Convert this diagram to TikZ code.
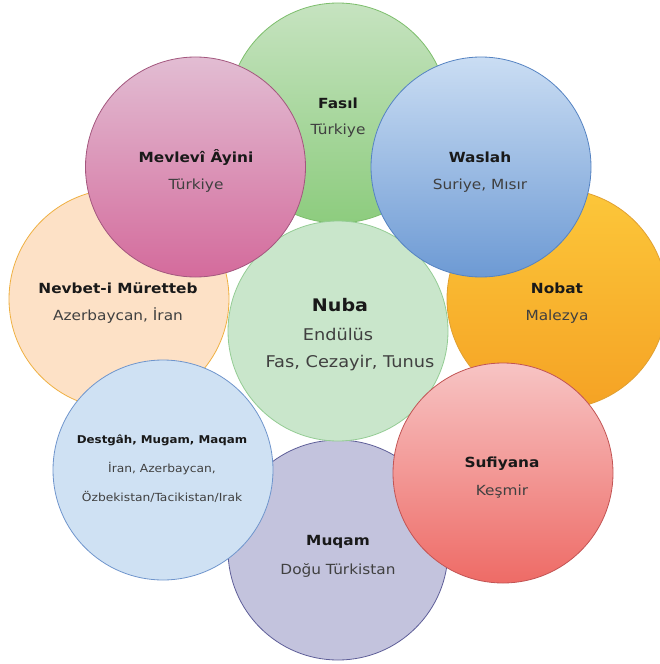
\documentclass[tikz,border=0pt]{standalone}
\usepackage{fontspec}
\setmainfont{DejaVu Sans}[FakeStretch=1.1]
\begin{document}
\begin{tikzpicture}[x=1bp,y=-1bp,
  bub/.style={circle, minimum size=220bp, inner sep=0pt, line width=0.8bp},
  ttl/.style={font=\bfseries\fontsize{14}{16}\selectfont, text=black!90, inner sep=0pt},
  sub/.style={font=\fontsize{14}{16}\selectfont, text=black!75, inner sep=0pt},
  ttlsm/.style={font=\bfseries\fontsize{10.8}{12}\selectfont, text=black!90, inner sep=0pt},
  subsm/.style={font=\fontsize{11.2}{13}\selectfont, text=black!75, inner sep=0pt}]
\definecolor{fasilTop}{HTML}{C6E3C0}\definecolor{fasilBot}{HTML}{8DCC7E}\definecolor{fasilLine}{HTML}{7DBE6C}
\definecolor{mevTop}{HTML}{E2BDD3}\definecolor{mevBot}{HTML}{D46B9C}\definecolor{mevLine}{HTML}{A3577E}
\definecolor{wasTop}{HTML}{CADDF3}\definecolor{wasBot}{HTML}{6D9AD4}\definecolor{wasLine}{HTML}{5583C2}
\definecolor{nobTop}{HTML}{FCC73A}\definecolor{nobBot}{HTML}{F5A224}\definecolor{nobLine}{HTML}{E0A032}
\definecolor{sufTop}{HTML}{F7C4C4}\definecolor{sufBot}{HTML}{EE6B66}\definecolor{sufLine}{HTML}{C25454}
\definecolor{nevFill}{HTML}{FDE1C6}\definecolor{nevLine}{HTML}{EFB042}
\definecolor{desFill}{HTML}{CFE1F3}\definecolor{desLine}{HTML}{6F95CC}
\definecolor{muqFill}{HTML}{C3C3DD}\definecolor{muqLine}{HTML}{5E5E98}
\definecolor{nubFill}{HTML}{C9E6CB}\definecolor{nubLine}{HTML}{94CC94}
\useasboundingbox (0,0) rectangle (660,664);
% outer ring, back layer
\node[bub, top color=fasilTop, bottom color=fasilBot, draw=fasilLine] (fasil) at (338,113) {};
\node[bub, fill=nevFill, draw=nevLine] (nevbet) at (119,299) {};
\node[bub, top color=nobTop, bottom color=nobBot, draw=nobLine] (nobat) at (557,299) {};
\node[bub, fill=muqFill, draw=muqLine] (muqam) at (338,550) {};
% centre
\node[bub, fill=nubFill, draw=nubLine] (nuba) at (338,331) {};
% outer ring, front layer
\node[bub, top color=mevTop, bottom color=mevBot, draw=mevLine] (mevlevi) at (195.5,167) {};
\node[bub, top color=wasTop, bottom color=wasBot, draw=wasLine] (waslah) at (481,167) {};
\node[bub, fill=desFill, draw=desLine] (destgah) at (163,470) {};
\node[bub, top color=sufTop, bottom color=sufBot, draw=sufLine] (sufiyana) at (503,473) {};
% labels
\node[ttl] (fasil-t) at (338,103) {Fasıl};
\node[sub] (fasil-s) at (338,131) {Türkiye};
\node[ttl] (mevlevi-t) at (196,158) {Mevlevî Âyini};
\node[sub] (mevlevi-s) at (196,186) {Türkiye};
\node[ttl] (waslah-t) at (480,157) {Waslah};
\node[sub] (waslah-s) at (480,186) {Suriye, Mısır};
\node[ttl] (nobat-t) at (557,288) {Nobat};
\node[sub] (nobat-s) at (557,317) {Malezya};
\node[ttl] (nevbet-t) at (118,288) {Nevbet-i Müretteb};
\node[sub] (nevbet-s) at (118,316) {Azerbaycan, İran};
\node[ttl] (sufiyana-t) at (502,464) {Sufiyana};
\node[sub] (sufiyana-s) at (502,492) {Keşmir};
\node[ttl] (muqam-t) at (338,542) {Muqam};
\node[sub] (muqam-s) at (338,570) {Doğu Türkistan};
\node[ttlsm] (destgah-t) at (162,440) {Destgâh, Mugam, Maqam};
\node[subsm] (destgah-s1) at (162,469) {İran, Azerbaycan,};
\node[subsm] (destgah-s2) at (162,497) {Özbekistan/Tacikistan/Irak};
\node[font=\bfseries\fontsize{17.4}{20}\selectfont, text=black!90, inner sep=0pt] (nuba-t) at (340,305) {Nuba};
\node[font=\fontsize{16.2}{19}\selectfont, text=black!75, inner sep=0pt] (nuba-s1) at (338,334) {Endülüs};
\node[font=\fontsize{16.2}{19}\selectfont, text=black!75, inner sep=0pt] (nuba-s2) at (350,363) {Fas, Cezayir, Tunus};
\end{tikzpicture}
\end{document}
